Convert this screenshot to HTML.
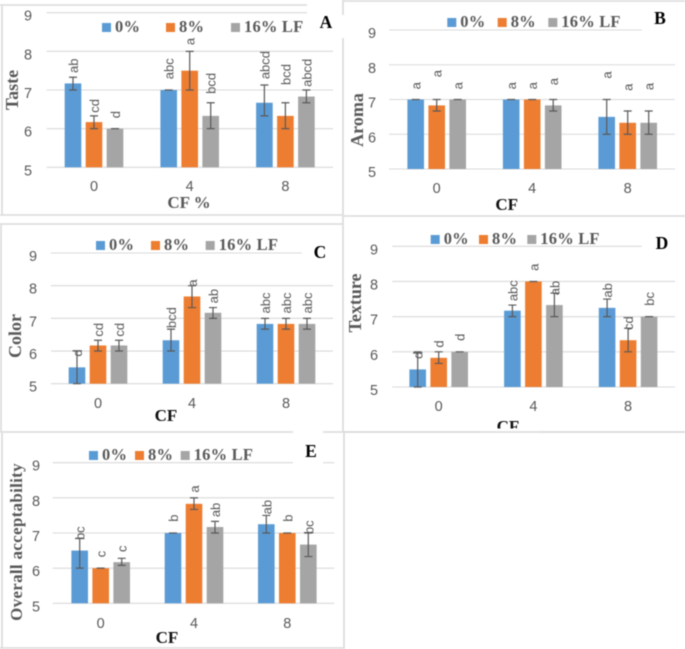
<!DOCTYPE html>
<html>
<head>
<meta charset="utf-8">
<style>
html,body{margin:0;padding:0;background:#fff;width:685px;height:649px;overflow:hidden}
svg{display:block;filter:blur(0.5px)}
.tick{font:14.5px "Liberation Sans",sans-serif;fill:#595959}
.letter{font:13px "Liberation Sans",sans-serif;fill:#595959}
.leg{font:bold 16.5px "Liberation Serif",serif;fill:#595959;letter-spacing:.2px}
.ytitle{font:bold 18px "Liberation Serif",serif;fill:#595959}
.ytitle-long{font:bold 17px "Liberation Serif",serif;fill:#595959;letter-spacing:.3px}
.xtitle{font:bold 17px "Liberation Serif",serif}
.tag{font:bold 17.5px "Liberation Serif",serif;fill:#000}
</style>
</head>
<body>
<svg id="figure" xmlns="http://www.w3.org/2000/svg" width="685" height="649" viewBox="0 0 685 649">
<rect width="685" height="649" fill="#fff"/>
</svg>
<script>
const categories = ["0", "4", "8"];
const seriesNames = ["0%", "8%", "16% LF"];
const yTicks = [5, 6, 7, 8, 9];

const tasteMeans = [[7.17, 7, 6.67], [6.17, 7.5, 6.33], [6, 6.33, 6.83]];
const tasteLows = [[7, 7, 6.33], [6, 7, 6], [6, 6, 6.67]];
const tasteHighs = [[7.33, 7, 7.13], [6.33, 8, 6.67], [6, 6.67, 7]];
const tasteLetters = [["ab", "abc", "abcd"], ["cd", "a", "bcd"], ["d", "bcd", "abcd"]];
const tasteLetterLevels = [[7.44, 7.28, 7.28], [6.41, 8.16, 7.13], [6.27, 6.9, 7.08]];

const aromaMeans = [[7, 7, 6.5], [6.83, 7, 6.33], [7, 6.83, 6.33]];
const aromaLows = [[7, 7, 6], [6.67, 7, 6], [7, 6.67, 6]];
const aromaHighs = [[7, 7, 7], [7, 7, 6.67], [7, 7, 6.67]];
const aromaLetters = [["a", "a", "a"], ["a", "a", "a"], ["a", "a", "a"]];
const aromaLetterLevels = [[7.29, 7.29, 7.6], [7.64, 7.29, 7.25], [7.29, 7.41, 7.27]];

const colorMeans = [[5.5, 6.33, 6.83], [6.17, 7.67, 6.83], [6.17, 7.17, 6.83]];
const colorLows = [[5, 6, 6.67], [6, 7.33, 6.67], [6, 7, 6.67]];
const colorHighs = [[6, 6.67, 7], [6.33, 8, 7], [6.33, 7.33, 7]];
const colorLetters = [["d", "bcd", "abc"], ["cd", "a", "abc"], ["cd", "ab", "abc"]];
const colorLetterLevels = [[5.83, 6.7, 7.15], [6.44, 7.97, 7.15], [6.44, 7.46, 7.15]];

const textureMeans = [[5.5, 7.17, 7.25], [5.83, 8, 6.33], [6, 7.33, 7]];
const textureLows = [[5, 7, 7], [5.67, 8, 6], [6, 7, 7]];
const textureHighs = [[6, 7.33, 7.5], [6, 8, 6.67], [6, 7.67, 7]];
const textureLetters = [["d", "abc", "ab"], ["d", "a", "cd"], ["d", "ab", "bc"]];
const textureLetterLevels = [[5.8, 7.44, 7.54], [6.12, 8.3, 6.62], [6.31, 7.61, 7.31]];

const overallMeans = [[6.5, 7, 7.25], [6, 7.83, 7], [6.17, 7.17, 6.67]];
const overallLows = [[6, 7, 7], [6, 7.67, 7], [6.08, 7, 6.33]];
const overallHighs = [[6.85, 7, 7.5], [6, 8, 7], [6.28, 7.33, 7]];
const overallLetters = [["bc", "b", "ab"], ["c", "a", "b"], ["c", "ab", "bc"]];
const overallLetterLevels = [[6.8, 7.32, 7.53], [6.31, 8.15, 7.32], [6.46, 7.45, 6.97]];

const seriesColors = ["#5B9BD5", "#ED7D31", "#A5A5A5"];
const SVGNS = "http://www.w3.org/2000/svg";
const figure = document.getElementById("figure");

function make(parent, tag, attrs, text) {
  const el = document.createElementNS(SVGNS, tag);
  for (const k in attrs) el.setAttribute(k, attrs[k]);
  if (text !== undefined) el.textContent = text;
  parent.appendChild(el);
  return el;
}

function drawFrame(x1, y1, x2, y2) {
  const el = make(figure, "line", {x1: x1, y1: y1, x2: x2, y2: y2, stroke: "#DADADA", "stroke-width": 1.6});
  
  
}

function drawMask(x, y, w, h) {
  const el = make(figure, "rect", {x: x, y: y, width: w, height: h, fill: "#fff"});
  
  
}

function drawPanel(p) {
  const g = make(figure, "g", {});
  
  

  const yAxis = v => p.y5 - (v - 5) * (p.y5 - p.y9) / 4;
  const xBand = i => p.c0 + i * p.pitch;
  const xBar = (s, i) => xBand(i) + (s - 1) * 21;

  yTicks.forEach((t, idx) => {
    const isTop = idx === yTicks.length - 1;
    const grid = make(g, "line", {x1: p.xl, x2: isTop ? p.topEnd : p.xr, y1: yAxis(t), y2: yAxis(t), stroke: "#D9D9D9", "stroke-width": 1.1});
    
    
    const lab = make(g, "text", {x: p.tickX, y: yAxis(t) + 8, "text-anchor": "middle", class: "tick"}, String(t));
    
    
  });

  categories.forEach((c, i) => {
    const lab = make(g, "text", {x: xBand(i), y: p.catY, "text-anchor": "middle", class: "tick"}, c);
    
    
  });

  seriesNames.forEach((nm, s) => {
    categories.forEach((c, i) => {
      const cx = xBar(s, i);
      const top = yAxis(p.means[s][i]);
      const bar = make(g, "rect", {x: cx - 8.3, y: top, width: 16.6, height: yAxis(5) - top, fill: seriesColors[s]});
      
      
    });
  });

  seriesNames.forEach((nm, s) => {
    categories.forEach((c, i) => {
      const cx = xBar(s, i);
      const lo = yAxis(p.lows[s][i]);
      const hi = yAxis(p.highs[s][i]);
      const err = make(g, "path", {d: "M" + (cx - 4) + " " + hi + "H" + (cx + 4) + "M" + cx + " " + hi + "V" + lo + "M" + (cx - 4) + " " + lo + "H" + (cx + 4), stroke: "#595959", "stroke-width": 1.2, fill: "none"});
      
      
    });
  });

  seriesNames.forEach((nm, s) => {
    categories.forEach((c, i) => {
      const lx = xBar(s, i) + 5;
      const ly = yAxis(p.levels[s][i]);
      const t = make(g, "text", {x: lx, y: ly, transform: "rotate(-90 " + lx + " " + ly + ")", class: "letter"}, p.letters[s][i]);
      
      
    });
  });

  seriesNames.forEach((nm, s) => {
    const sw = make(g, "rect", {x: p.legX[s], y: p.legY - 9, width: 9, height: 9, fill: seriesColors[s]});
    
    
    const t = make(g, "text", {x: p.legX[s] + 13, y: p.legY, class: "leg"}, nm);
    
    
  });

  const yt = make(g, "text", {x: p.yTitleX, y: p.yTitleY, transform: "rotate(-90 " + p.yTitleX + " " + p.yTitleY + ")", "text-anchor": "middle", class: p.yClass}, p.yTitle);
  
  

  const xt = make(g, "text", {x: p.xTitleX, y: p.xTitleY, "text-anchor": "middle", class: "xtitle", fill: p.xFill}, p.xTitle);
  
  

  const tg = make(g, "text", {x: p.tagX, y: p.tagY, "text-anchor": "middle", class: "tag"}, p.tag);
  
  
}

drawFrame(2, 5, 2, 215);
drawFrame(0, 5, 307, 5);
drawFrame(0, 215, 343, 215);
drawFrame(343, 0, 343, 15);
drawFrame(343, 38, 343, 215);
drawFrame(343, 1, 685, 1);
drawFrame(343, 216, 685, 216);
drawFrame(0, 224, 343, 224);
drawFrame(1, 224, 1, 432);
drawFrame(343, 216, 343, 432);
drawFrame(343, 432, 685, 432);
drawFrame(2, 433, 2, 649);
drawFrame(344, 433, 344, 649);
drawFrame(0, 648, 344, 648);

drawPanel({name: "taste", tag: "A", means: tasteMeans, lows: tasteLows, highs: tasteHighs, letters: tasteLetters, levels: tasteLetterLevels,
  y9: 12.7, y5: 167.3, xl: 46.7, xr: 333, topEnd: 307, c0: 94, pitch: 95.7, tickX: 28, catY: 191,
  legX: [102, 166, 231], legY: 32, yTitle: "Taste", yClass: "ytitle", yTitleX: 18, yTitleY: 90,
  xTitle: "CF %", xTitleX: 189, xTitleY: 208, xFill: "#595959", tagX: 326, tagY: 28});

drawPanel({name: "aroma", tag: "B", means: aromaMeans, lows: aromaLows, highs: aromaHighs, letters: aromaLetters, levels: aromaLetterLevels,
  y9: 30, y5: 169, xl: 389, xr: 675, topEnd: 641.7, c0: 436.7, pitch: 95.5, tickX: 372, catY: 193,
  legX: [447.3, 497.7, 548.3], legY: 27, yTitle: "Aroma", yClass: "ytitle", yTitleX: 363, yTitleY: 120,
  xTitle: "CF", xTitleX: 506.7, xTitleY: 210, xFill: "#111", tagX: 660, tagY: 24});

drawPanel({name: "color", tag: "C", means: colorMeans, lows: colorLows, highs: colorHighs, letters: colorLetters, levels: colorLetterLevels,
  y9: 253, y5: 383.7, xl: 51, xr: 333, topEnd: 301.7, c0: 98, pitch: 94, tickX: 33, catY: 408,
  legX: [96, 151, 205.7], legY: 250, yTitle: "Color", yClass: "ytitle", yTitleX: 21, yTitleY: 336,
  xTitle: "CF", xTitleX: 166, xTitleY: 421, xFill: "#111", tagX: 320, tagY: 258});

drawPanel({name: "texture", tag: "D", means: textureMeans, lows: textureLows, highs: textureHighs, letters: textureLetters, levels: textureLetterLevels,
  y9: 246.3, y5: 387, xl: 392.3, xr: 675, topEnd: 641.7, c0: 438.7, pitch: 94.7, tickX: 374, catY: 411,
  legX: [430.7, 479, 527.3], legY: 244, yTitle: "Texture", yClass: "ytitle", yTitleX: 361, yTitleY: 303,
  xTitle: "CF", xTitleX: 508, xTitleY: 432, xFill: "#111", tagX: 662, tagY: 249});

drawMask(480, 428.5, 60, 6);
drawFrame(0, 432, 344, 432);
drawFrame(343, 432, 685, 432);
drawMask(293, 431, 30, 4);

drawPanel({name: "overall-acceptability", tag: "E", means: overallMeans, lows: overallLows, highs: overallHighs, letters: overallLetters, levels: overallLetterLevels,
  y9: 462.7, y5: 603.3, xl: 52.7, xr: 334.3, topEnd: 293, c0: 100.7, pitch: 93.3, tickX: 36, catY: 628,
  legX: [89, 135, 180.7], legY: 460, yTitle: "Overall acceptability", yClass: "ytitle-long", yTitleX: 22, yTitleY: 542,
  xTitle: "CF", xTitleX: 167, xTitleY: 643, xFill: "#111", tagX: 311, tagY: 457});

const eRight = make(figure, "line", {x1: 323, x2: 334.3, y1: 462.7, y2: 462.7, stroke: "#D9D9D9", "stroke-width": 1.1});


</script>
</body>
</html>
